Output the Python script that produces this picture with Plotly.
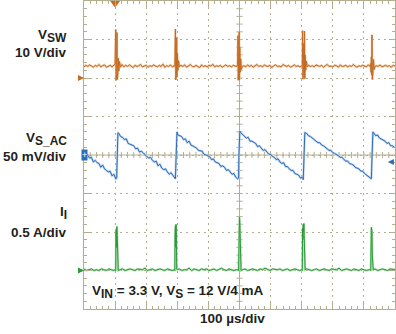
import plotly.graph_objects as go

# ---------------- data (time in microseconds) ----------------
VSW_T = [0,6,12,18,24,30,36,42,48,54,60,66,72,78,84,90,96,
         100,102,103,104,105,106,107,108,109,110,112,114,117,
         122,128,134,140,146,152,158,164,170,176,182,188,194,200,206,212,218,224,230,236,242,248,254,260,266,272,278,284,290,
         292,294,295,296,297,298,299,300,302,304,307,
         312,318,324,330,336,342,348,354,360,366,372,378,384,390,396,402,408,414,420,426,432,438,444,450,456,462,468,474,480,486,492,
         494,495,496,497,498,499,500,501,502,504,506,509,
         514,520,526,532,538,544,550,556,562,568,574,580,586,592,598,604,610,616,622,628,634,640,646,652,658,664,670,676,682,688,694,700,
         702,703,704,705,706,707,708,709,710,711,713,715,718,
         722,728,734,740,746,752,758,764,770,776,782,788,794,800,806,812,818,824,830,836,842,848,854,860,866,872,878,884,890,896,902,908,914,920,
         922,923,924,925,926,927,928,929,931,933,936,
         940,946,952,958,964,970,976,982,988,994,1000]
VSW_V = [2.9,3.3,3.0,3.4,3.1,2.8,3.3,3.0,3.5,2.9,3.2,3.4,2.8,3.1,3.3,2.9,3.2,
         3.6,12.6,-0.6,9.0,0.5,11.8,-0.4,7.5,1.2,5.2,1.8,4.3,2.8,
         3.5,2.9,3.3,3.0,3.4,3.1,2.7,3.3,3.0,3.2,3.5,2.9,3.1,3.3,2.8,3.2,3.0,3.4,3.1,2.9,3.3,3.0,3.6,2.8,3.2,3.0,3.4,2.9,3.2,
         3.0,12.7,-0.5,6.0,1.0,10.5,0.2,6.5,2.0,4.5,2.9,
         3.3,3.0,3.4,2.8,3.2,3.5,3.0,2.9,3.3,3.1,2.7,3.4,3.0,3.2,2.9,3.3,3.1,3.6,2.9,3.2,3.0,3.3,2.8,3.1,3.4,3.0,3.2,2.9,3.3,3.1,3.0,
         3.6,11.0,-0.6,5.0,0.8,12.0,-0.5,8.0,1.5,5.0,2.2,3.0,
         3.2,2.9,3.4,3.0,3.3,2.8,3.1,3.5,3.0,3.2,2.9,3.4,3.1,3.0,3.3,2.7,3.2,3.4,3.0,3.1,2.9,3.5,3.2,3.0,3.3,2.8,3.1,3.4,3.0,3.2,2.9,3.1,
         3.5,12.3,-0.3,6.5,1.0,9.0,0.5,12.2,-0.2,6.0,2.0,4.4,2.9,
         3.3,3.0,3.2,2.9,3.4,3.1,3.0,3.3,2.8,3.2,3.5,3.0,3.1,2.9,3.3,3.2,2.8,3.4,3.0,3.1,3.3,2.9,3.2,3.0,3.5,3.1,2.8,3.2,3.0,3.3,3.1,2.9,3.4,3.0,
         3.8,1.5,5.5,0.8,11.2,-0.4,6.0,1.2,4.8,2.2,3.0,
         3.2,3.0,3.4,2.9,3.1,3.3,3.0,3.2,2.8,3.3,3.1]

VSAC_T = [0,6,12,18,24,30,36,42,48,54,60,66,72,78,84,90,96,102,
          105,106,107,109,
          112,118,124,130,136,142,148,154,160,166,172,178,184,190,196,202,208,214,220,226,232,238,244,250,256,262,268,274,280,286,292,
          294,296,297,299,
          302,308,314,320,326,332,338,344,350,356,362,368,374,380,386,392,398,404,410,416,422,428,434,440,446,452,458,464,470,476,482,488,494,
          497,498,499,501,
          504,510,516,522,528,534,540,546,552,558,564,570,576,582,588,594,600,606,612,618,624,630,636,642,648,654,660,666,672,678,684,690,696,702,
          705,707,708,710,
          716,722,728,734,740,746,752,758,764,770,776,782,788,794,800,806,812,818,824,830,836,842,848,854,860,866,872,878,884,890,896,902,908,914,920,
          924,926,927,929,
          938,944,950,956,962,968,974,980,986,992,998,1000]
VSAC_V = [4,1,0,-4,-3,-9,-7,-10,-11,-16,-13,-18,-20,-22,-21,-27,-25,-31,
          -30,-3,25,29,
          28,24,23,20,21,15,14,13,12,8,9,4,5,3,0,-2,-4,-3,-7,-9,-8,-14,-12,-17,-19,-18,-22,-25,-23,-27,-30,
          -31,-4,27,30,
          26,25,24,20,21,16,18,13,12,11,9,6,5,5,1,0,-2,-2,-6,-5,-9,-10,-11,-15,-14,-16,-20,-19,-22,-25,-24,-29,-31,
          -30,-3,29,31,
          29,27,25,22,23,18,18,16,15,11,12,9,6,7,4,1,1,-2,-3,-6,-5,-9,-11,-10,-15,-15,-18,-20,-20,-24,-25,-26,-30,-29,
          -32,-5,26,29,
          28,25,24,22,21,18,16,16,13,12,10,9,6,6,3,2,1,-1,-3,-3,-6,-8,-8,-11,-12,-13,-16,-17,-18,-21,-21,-24,-26,-27,-29,
          -31,-4,27,30,
          25,26,22,21,19,18,15,16,12,12,10,9]

II_T = [0,8,16,24,32,40,48,56,64,72,80,88,96,
        100,102,103,104,105,106,107,108,110,
        116,124,132,140,148,156,164,172,180,188,196,204,212,220,228,236,244,252,260,268,276,284,
        290,292,293,294,295,296,297,298,300,
        306,314,322,330,338,346,354,362,370,378,386,394,402,410,418,426,434,442,450,458,466,474,482,490,
        495,497,498,499,500,501,502,503,505,
        510,518,526,534,542,550,558,566,574,582,590,598,606,614,622,630,638,646,654,662,670,678,686,694,
        700,702,703,704,705,706,707,708,709,711,
        716,724,732,740,748,756,764,772,780,788,796,804,812,820,828,836,844,852,860,868,876,884,892,900,908,916,
        920,922,923,924,925,926,927,928,930,
        936,944,952,960,968,976,984,992,1000]
II_V = [0.02,0.00,0.01,0.02,0.00,0.01,0.00,0.02,0.01,0.00,0.02,0.01,0.00,
        0.01,0.00,0.52,0.30,0.55,0.57,0.35,0.02,0.00,
        0.01,0.02,0.00,0.01,0.02,0.01,0.00,0.02,0.01,0.01,0.03,0.00,0.01,0.02,0.00,0.01,0.02,0.01,0.00,0.02,0.01,0.00,
        0.01,0.00,0.48,0.58,0.30,0.60,0.45,0.02,0.01,
        0.02,0.00,0.01,0.01,0.03,0.00,0.02,0.01,0.00,0.02,0.01,0.02,0.00,0.01,0.02,0.00,0.01,0.03,0.01,0.00,0.02,0.01,0.00,0.01,
        0.01,0.00,0.50,0.35,0.69,0.62,0.40,0.03,0.00,
        0.01,0.02,0.00,0.01,0.02,0.01,0.00,0.02,0.01,0.03,0.01,0.00,0.02,0.01,0.01,0.02,0.00,0.01,0.02,0.00,0.01,0.02,0.01,0.00,
        0.01,0.00,0.55,0.40,0.60,0.50,0.61,0.45,0.03,0.01,
        0.02,0.01,0.00,0.01,0.02,0.00,0.01,0.02,0.01,0.00,0.02,0.01,0.01,0.03,0.00,0.01,0.02,0.01,0.00,0.02,0.01,0.00,0.02,0.01,0.00,0.01,
        0.01,0.00,0.30,0.56,0.45,0.50,0.20,0.02,0.01,
        0.02,0.00,0.01,0.02,0.01,0.00,0.02,0.01,0.01]

# channel settings: (offset in divisions, units per division)
VSW_OFFSET, VSW_SCALE = 2.0, 10.0
VSAC_OFFSET, VSAC_SCALE = 0.0, 50.0
II_OFFSET, II_SCALE = -3.0, 0.5
TRIG_T = 100
TRIG_LEVEL_DIV = -0.18


def sub(s):
    return "<sub><span style='font-size:12px'>" + s + "</span></sub>"


LABELS = [("V" + sub("SW"), 3.09), ("10 V/div", 2.66),
          ("V" + sub("S_AC"), 0.42), ("50 mV/div", -0.05),
          ("I" + sub("I"), -1.5), ("0.5 A/div", -2.0)]
COND_TEXT = "V" + sub("IN") + " = 3.3 V, V" + sub("S") + " = 12 V/4 mA"
TIME_TEXT = "100 µs/div"

# ---------------- styling ----------------
FRAME = "#b5ae8e"
TXT = "#231f20"
ORANGE, ORANGE_L = "#c56a22", "#efc9a6"
BLUE, BLUE_L = "#2f6cb4", "#b8d0ee"
GREEN, GREEN_L = "#2a9a3a", "#b2deb2"
FONT = "Arial, Liberation Sans, sans-serif"


def to_div(vals, off, scale):
    return [off + v / scale for v in vals]


fig = go.Figure()
for t, v, off, sc, dark, light in [
    (VSW_T, VSW_V, VSW_OFFSET, VSW_SCALE, ORANGE, ORANGE_L),
    (VSAC_T, VSAC_V, VSAC_OFFSET, VSAC_SCALE, BLUE, BLUE_L),
    (II_T, II_V, II_OFFSET, II_SCALE, GREEN, GREEN_L),
]:
    y = to_div(v, off, sc)
    fig.add_trace(go.Scatter(x=t, y=y, mode="lines", line=dict(color=light, width=2.2),
                             hoverinfo="skip", showlegend=False))
    fig.add_trace(go.Scatter(x=t, y=y, mode="lines", line=dict(color=dark, width=1),
                             showlegend=False))

# trigger position marker
fig.add_trace(go.Scatter(x=[TRIG_T], y=[3.95], mode="markers", cliponaxis=False,
                         marker=dict(symbol="triangle-down", size=9, color=ORANGE),
                         showlegend=False))

axis_common = dict(showticklabels=False, ticks="inside", tickcolor=FRAME, ticklen=6,
                   showgrid=True, gridcolor=FRAME, griddash="2px,4px", gridwidth=1,
                   showline=True, linecolor=FRAME, linewidth=1, mirror="allticks",
                   zeroline=False, fixedrange=True)
fig.update_xaxes(range=[0, 1000], tick0=0, dtick=100,
                 minor=dict(dtick=20, ticks="inside", ticklen=3, tickcolor=FRAME, showgrid=False),
                 **axis_common)
fig.update_yaxes(range=[-4, 4], tick0=0, dtick=1,
                 minor=dict(dtick=0.2, ticks="inside", ticklen=3, tickcolor=FRAME, showgrid=False),
                 **axis_common)

# centre cross-hair lines with ticks
shapes = [dict(type="line", x0=500, x1=500, y0=-4, y1=4, xref="x", yref="y",
               line=dict(color=FRAME, width=1), layer="below"),
          dict(type="line", x0=0, x1=1000, y0=0, y1=0, xref="x", yref="y",
               line=dict(color=FRAME, width=1), layer="below")]
for k in range(1, 50):
    shapes.append(dict(type="line", x0=k * 20, x1=k * 20, y0=-0.08, y1=0.08,
                       line=dict(color=FRAME, width=1), layer="below"))
for k in range(-19, 20):
    shapes.append(dict(type="line", x0=490, x1=510, y0=k * 0.2, y1=k * 0.2,
                       line=dict(color=FRAME, width=1), layer="below"))
fig.update_layout(shapes=shapes)

LBL_FONT = dict(family=FONT, size=13.5, color=TXT, weight="bold")
ann = []
for text, yv in LABELS:
    ann.append(dict(text=text, x=0, xref="paper", y=yv, yref="y", xanchor="right",
                    yanchor="middle", xshift=-15, showarrow=False, font=LBL_FONT))
ann.append(dict(text=COND_TEXT, x=18, xref="x", y=-3.56, yref="y", xanchor="left",
                yanchor="middle", showarrow=False, font=LBL_FONT))
ann.append(dict(text=TIME_TEXT, x=0.477, xref="paper", y=0, yref="paper", xanchor="center",
                yanchor="middle", yshift=-9, showarrow=False, font=LBL_FONT))
# ground reference markers
ann.append(dict(text="", x=0, y=VSW_OFFSET, xref="x", yref="y", showarrow=True, ax=-6, ay=0,
                arrowhead=2, arrowsize=0.8, arrowwidth=1.5, arrowcolor=ORANGE))
ann.append(dict(text="", x=0, y=II_OFFSET, xref="x", yref="y", showarrow=True, ax=-6, ay=0,
                arrowhead=2, arrowsize=0.8, arrowwidth=1.5, arrowcolor=GREEN))
ann.append(dict(text="+", x=0, y=VSAC_OFFSET, xref="x", yref="y", xanchor="center",
                yanchor="middle", showarrow=False, bgcolor=BLUE, borderpad=0,
                font=dict(family=FONT, size=9, color="white")))
ann.append(dict(text="", x=977, y=TRIG_LEVEL_DIV, xref="x", yref="y", showarrow=True, ax=7, ay=0,
                arrowhead=2, arrowsize=0.8, arrowwidth=1.5, arrowcolor=BLUE))
fig.update_layout(annotations=ann)

fig.update_layout(width=396, height=334, margin=dict(l=84, r=1, t=1, b=25),
                  paper_bgcolor="white", plot_bgcolor="white",
                  font=dict(family=FONT, color=TXT), showlegend=False)

fig.write_html("out.html")
